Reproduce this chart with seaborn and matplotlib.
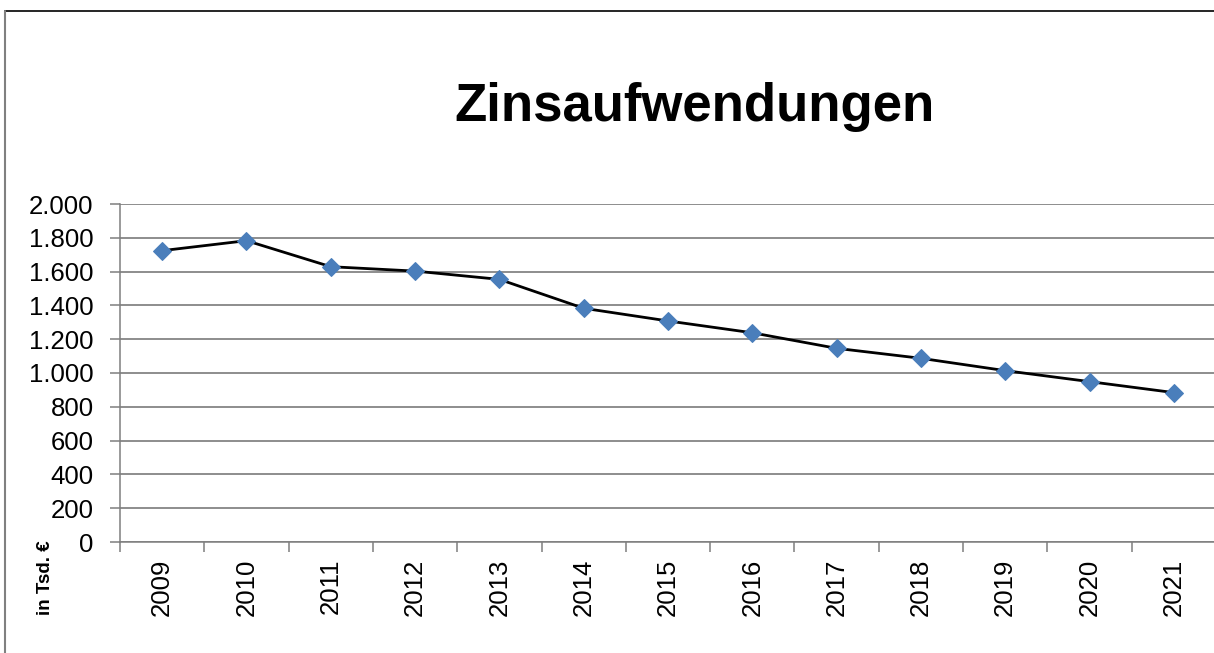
import matplotlib
matplotlib.use("Agg")
import matplotlib.pyplot as plt
import seaborn as sns
import pandas as pd
import numpy as np
from matplotlib.patches import Rectangle
from matplotlib.ticker import FuncFormatter, FixedLocator

years = ["2009", "2010", "2011", "2012", "2013", "2014", "2015",
         "2016", "2017", "2018", "2019", "2020", "2021"]
values = [1724, 1783, 1629, 1603, 1554, 1383, 1308, 1238, 1146, 1087, 1014, 949, 884]
y_ticks = [0, 200, 400, 600, 800, 1000, 1200, 1400, 1600, 1800, 2000]
title = "Zinsaufwendungen"
unit_label = "in Tsd. €"

df = pd.DataFrame({"Jahr": years, "Wert": values})

sns.set_theme(style="white")
plt.rcParams["font.family"] = ["Liberation Sans", "DejaVu Sans"]

W, H = 1214, 653
fig = plt.figure(figsize=(W / 100, H / 100), dpi=100)
ax = fig.add_axes([120 / W, 1 - 542 / H, (1216 - 120) / W, (542 - 204) / H])

# chart frame
fig.patches.append(Rectangle((4.5 / W, -0.05), 1.1, (1 - 11 / H) + 0.05,
                             transform=fig.transFigure, fill=False,
                             edgecolor="#000000", linewidth=1.2, zorder=0))
fig.lines.append(plt.Line2D([4.5 / W, 4.5 / W], [0, 1 - 11 / H],
                            transform=fig.transFigure, color="#808080", linewidth=1.5))

sns.lineplot(data=df, x="Jahr", y="Wert", ax=ax, color="black", linewidth=2,
             marker="D", markersize=9, markerfacecolor="#4A7EBB",
             markeredgecolor="#4A7EBB", zorder=3)

ax.set_xlim(-0.5, len(years) - 0.5)
ax.set_ylim(0, 2000)
ax.set_yticks(y_ticks)
ax.yaxis.set_major_formatter(FuncFormatter(lambda v, p: f"{int(v):,}".replace(",", ".")))
ax.grid(axis="y", color="#6f6f6f", linewidth=1.1)
ax.set_axisbelow(True)

ax.set_xticks(range(len(years)))
ax.set_xticklabels(years, rotation=90)
ax.xaxis.set_minor_locator(FixedLocator(np.arange(-0.5, len(years), 1.0)))
ax.tick_params(axis="x", which="major", length=0, pad=12, labelsize=18.5, colors="black")
ax.tick_params(axis="x", which="minor", length=7, width=1.1, color="#7f7f7f", direction="out", bottom=True)
ax.tick_params(axis="y", which="major", length=7, width=1.1, color="#7f7f7f", direction="out",
               left=True, labelsize=18.5, pad=12, labelcolor="black")

for s in ["top", "right"]:
    ax.spines[s].set_visible(False)
for s in ["left", "bottom"]:
    ax.spines[s].set_color("#7f7f7f")
    ax.spines[s].set_linewidth(1.1)

ax.set_xlabel("")
ax.set_ylabel("")

fig.text(694.5 / W, 1 - 121 / H, title, ha="center", va="baseline",
         fontsize=38, fontweight="bold", color="black")
fig.text(46 / W, 1 - 578 / H, unit_label, ha="center", va="center",
         rotation=90, fontsize=13.5, fontweight="bold", color="black")

fig.savefig("out.png", dpi=100)
